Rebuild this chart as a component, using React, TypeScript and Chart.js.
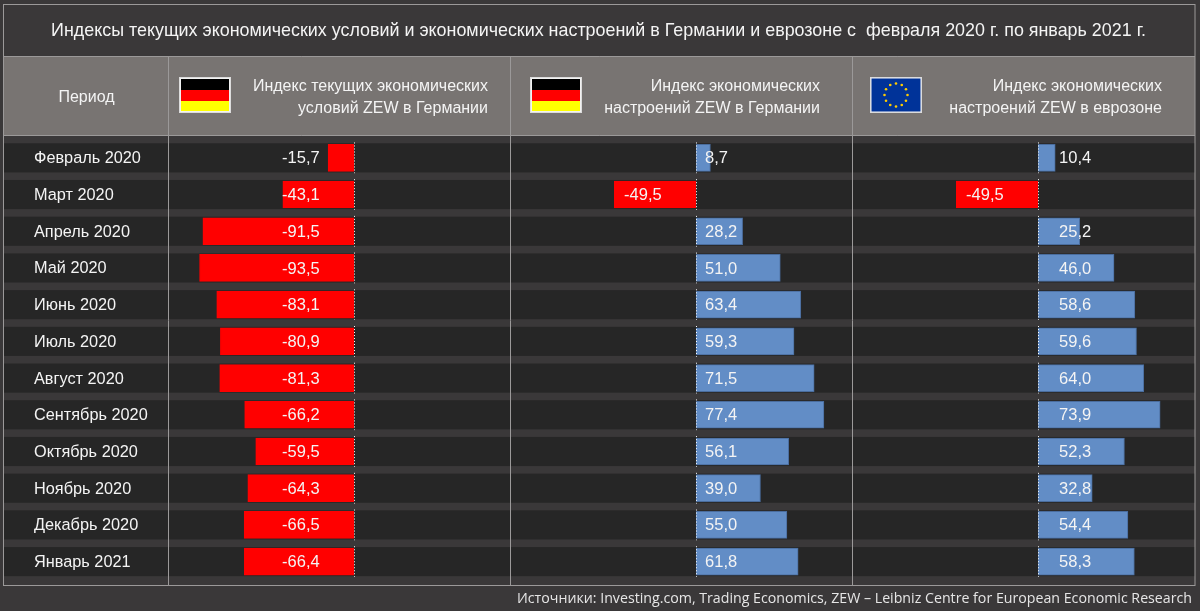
import React, { useEffect, useRef } from "react";
import { Chart, registerables } from "chart.js";

Chart.register(...registerables);

const periods = ["Февраль 2020","Март 2020","Апрель 2020","Май 2020","Июнь 2020","Июль 2020","Август 2020","Сентябрь 2020","Октябрь 2020","Ноябрь 2020","Декабрь 2020","Январь 2021"];
const currentGermany = [-15.7,-43.1,-91.5,-93.5,-83.1,-80.9,-81.3,-66.2,-59.5,-64.3,-66.5,-66.4];
const sentimentGermany = [8.7,-49.5,28.2,51.0,63.4,59.3,71.5,77.4,56.1,39.0,55.0,61.8];
const sentimentEurozone = [10.4,-49.5,25.2,46.0,58.6,59.6,64.0,73.9,52.3,32.8,54.4,58.3];

const titleText = "Индексы текущих экономических условий и экономических настроений в Германии и еврозоне с  февраля 2020 г. по январь 2021 г.";
const footerText = "Источники: Investing.com, Trading Economics, ZEW – Leibniz Centre for European Economic Research";
const periodHeader = "Период";
const headers = [
  ["Индекс текущих экономических", "условий ZEW в Германии"],
  ["Индекс экономических", "настроений ZEW в Германии"],
  ["Индекс экономических", "настроений ZEW в еврозоне"],
];

const RED = "#ff0000";
const BLUE = "#628dc6";
const BG = "#3a3839";
const HEAD = "#787472";
const ROW = "#262626";
const LINE = "#9b9999";
const TEXT = "#f4f4f4";
const FONT = "'Liberation Sans', Arial, sans-serif";

const colours = (vals: number[]) => vals.map((v) => (v < 0 ? RED : BLUE));
const comma = (v: number) => v.toFixed(1).replace(".", ",");

// label starts relative to each column's zero line, [negative, positive], left-aligned
const labelOffsets: Record<string, [number, number]> = {
  x: [-72, 0],
  x2: [-72, 9],
  x3: [-72, 21],
};

const chromePlugin = {
  id: "chrome",
  afterLayout(chart: any) {
    chart.scales.y.left = 34;
    const sub = chart.boxes.find((b: any) => b.options && b.options.text === footerText);
    if (sub) sub.right = 1192;
  },
  beforeDraw(chart: any) {
    const { ctx, chartArea } = chart;
    const { x, x2, x3, y } = chart.scales;
    const step = y.getPixelForValue(1) - y.getPixelForValue(0);
    ctx.save();
    ctx.fillStyle = BG;
    ctx.fillRect(0, 0, chart.width, chart.height);
    ctx.fillStyle = HEAD;
    ctx.fillRect(4, 56, chartArea.right - 4, 80);
    periods.forEach((_, i) => {
      const c = y.getPixelForValue(i);
      ctx.fillStyle = ROW;
      ctx.fillRect(4, c - step / 2 + 3.8, chartArea.right - 4, step - 7.6);
    });
    ctx.strokeStyle = LINE;
    ctx.lineWidth = 1;
    const h = (yy: number) => {
      ctx.beginPath();
      ctx.moveTo(3.5, yy);
      ctx.lineTo(chartArea.right, yy);
      ctx.stroke();
    };
    [56.5, 135.5, 585.5].forEach(h);
    ctx.strokeRect(3.5, 4.5, chartArea.right - 3.5, 581);
    [x, x2, x3].forEach((s: any) => {
      ctx.beginPath();
      ctx.moveTo(Math.round(s.left) - 0.5, 56);
      ctx.lineTo(Math.round(s.left) - 0.5, 585);
      ctx.stroke();
    });
    ctx.restore();
  },
  afterDatasetsDraw(chart: any) {
    const { ctx } = chart;
    const { y } = chart.scales;
    const step = y.getPixelForValue(1) - y.getPixelForValue(0);
    ctx.save();
    chart.data.datasets.forEach((ds: any) => {
      const id: string = ds.xAxisID;
      const s = chart.scales[id];
      const zero = s.getPixelForValue(0);
      ds.data.forEach((v: number, i: number) => {
        const c = y.getPixelForValue(i);
        ctx.strokeStyle = "#ffffff";
        ctx.lineWidth = 1;
        ctx.setLineDash([1, 2]);
        ctx.beginPath();
        ctx.moveTo(Math.round(zero) + 0.5, c - step / 2 + 3);
        ctx.lineTo(Math.round(zero) + 0.5, c + step / 2 - 3);
        ctx.stroke();
        ctx.setLineDash([]);
        const off = v < 0 && id === "x" ? -72 : labelOffsets[id][v < 0 ? 0 : 1];
        ctx.fillStyle = TEXT;
        ctx.font = `16.5px ${FONT}`;
        ctx.textAlign = "left";
        ctx.textBaseline = "middle";
        ctx.fillText(comma(v), zero + off, c + 1);
      });
    });
    ctx.restore();
  },
};

function Flag({ kind, left }: { kind: "de" | "eu"; left: number }) {
  const stars = Array.from({ length: 12 }, (_, i) => i);
  return (
    <svg width={52} height={36} style={{ position: "absolute", left, top: 77 }}>
      <rect x={0.5} y={0.5} width={51} height={35} fill="#f2f2f2" stroke="#dcdcdc" />
      {kind === "de" ? (
        <g>
          <rect x={2} y={2} width={48} height={11} fill="#000000" />
          <rect x={2} y={13} width={48} height={11} fill="#ff0000" />
          <rect x={2} y={24} width={48} height={10} fill="#ffff00" />
        </g>
      ) : (
        <g>
          <rect x={1.5} y={1.5} width={49} height={33} fill="#003399" />
          {stars.map((i) => (
            <circle key={i} cx={26 + 11.5 * Math.sin((i * Math.PI) / 6)} cy={18 - 11.5 * Math.cos((i * Math.PI) / 6)} r={1.3} fill="#ffcc00" />
          ))}
        </g>
      )}
    </svg>
  );
}

const headerStyle: React.CSSProperties = {
  position: "absolute",
  top: 75,
  textAlign: "right",
  color: TEXT,
  font: `16px/22px ${FONT}`,
  whiteSpace: "nowrap",
};

export default function App() {
  const ref = useRef<HTMLCanvasElement>(null);
  useEffect(() => {
    const mk = (label: string, data: number[], xAxisID: string) => ({
      label,
      data,
      xAxisID,
      yAxisID: "y",
      grouped: false,
      backgroundColor: colours(data),
      borderColor: data.map((v) => (v < 0 ? RED : "#4a6d9e")),
      borderWidth: 1,
      barThickness: 27,
    });
    const xScale = { type: "linear", display: false, position: "bottom", stack: "cols", stackWeight: 1, min: -112, max: 95 };
    const chart = new Chart(ref.current as HTMLCanvasElement, {
      type: "bar",
      data: {
        labels: periods,
        datasets: [
          mk(headers[0].join(" "), currentGermany, "x"),
          mk(headers[1].join(" "), sentimentGermany, "x2"),
          mk(headers[2].join(" "), sentimentEurozone, "x3"),
        ],
      },
      options: {
        indexAxis: "y",
        animation: false,
        responsive: false,
        layout: { padding: { left: 2, right: 5, top: 0, bottom: 0 } },
        scales: {
          x: xScale,
          x2: xScale,
          x3: xScale,
          y: {
            type: "category",
            position: "left",
            offset: true,
            grid: { display: false },
            border: { display: false },
            afterFit: (s: any) => { s.width = 167; },
            ticks: { color: TEXT, font: { family: FONT, size: 16.3 }, crossAlign: "far", autoSkip: false, padding: 0, labelOffset: 1 },
          },
        },
        plugins: {
          legend: { display: false },
          tooltip: { enabled: false },
          title: {
            display: true,
            text: titleText,
            color: TEXT,
            font: { family: FONT, size: 17.9, weight: "normal" },
            padding: { top: 20, bottom: 98 },
          },
          subtitle: {
            display: true,
            position: "bottom",
            align: "end",
            text: footerText,
            color: "#e6e6e6",
            font: { family: "'Open Sans', sans-serif", size: 14.2, weight: "normal" },
            padding: { top: 10, bottom: 4 },
          },
        },
      } as any,
      plugins: [chromePlugin],
    } as any);
    return () => chart.destroy();
  }, []);
  return (
    <div style={{ position: "fixed", left: 0, top: 0, width: 1200, height: 611, overflow: "hidden" }}>
      <canvas ref={ref} width={1200} height={611} style={{ display: "block" }} />
      <div style={{ ...headerStyle, left: 4, width: 165, textAlign: "center", top: 86 }}>{periodHeader}</div>
      <Flag kind="de" left={179} />
      <Flag kind="de" left={530} />
      <Flag kind="eu" left={870} />
      <div style={{ ...headerStyle, right: 1200 - 488 }}>{headers[0][0]}<br />{headers[0][1]}</div>
      <div style={{ ...headerStyle, right: 1200 - 820 }}>{headers[1][0]}<br />{headers[1][1]}</div>
      <div style={{ ...headerStyle, right: 1200 - 1162 }}>{headers[2][0]}<br />{headers[2][1]}</div>
    </div>
  );
}
